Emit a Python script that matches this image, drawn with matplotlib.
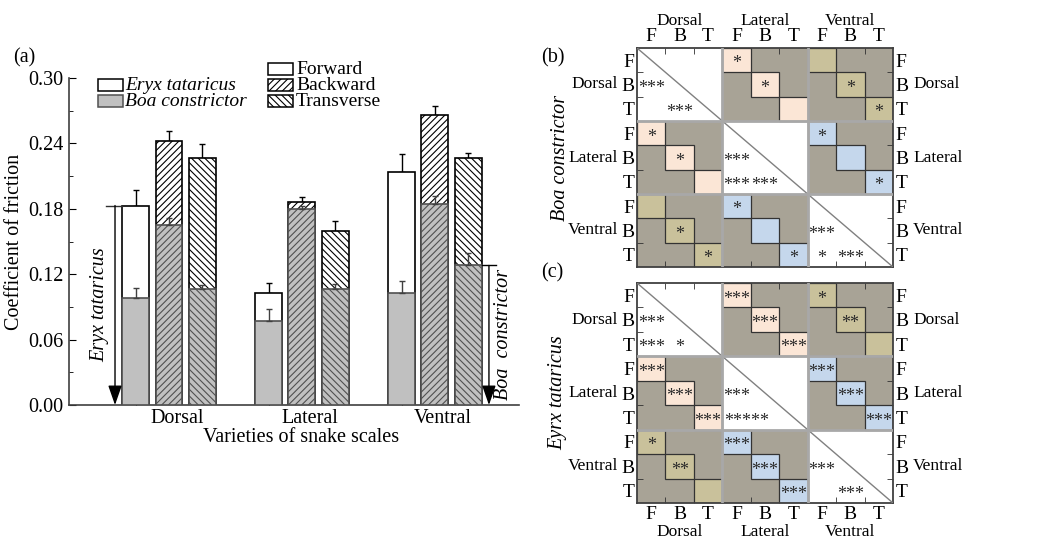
import matplotlib
matplotlib.use("Agg")
import matplotlib.pyplot as plt
import numpy as np
from matplotlib.patches import Rectangle
from matplotlib.transforms import offset_copy

plt.rcParams['font.family'] = ['Liberation Serif', 'DejaVu Serif']
plt.rcParams['hatch.linewidth'] = 0.8

# ── data ──────────────────────────────────────────────────────────────
regions = ["Dorsal", "Lateral", "Ventral"]
directions = ["Forward", "Backward", "Transverse"]
hatches = ["", "/////", "\\\\\\\\\\"]

# rows: Dorsal, Lateral, Ventral ; cols: Forward, Backward, Transverse
eryx_mean = [[0.183, 0.242, 0.227], [0.103, 0.186, 0.160], [0.214, 0.266, 0.227]]
eryx_err = [[0.014, 0.009, 0.012], [0.009, 0.005, 0.009], [0.016, 0.008, 0.004]]
boa_mean = [[0.098, 0.165, 0.106], [0.077, 0.180, 0.106], [0.103, 0.184, 0.128]]
boa_err = [[0.009, 0.007, 0.004], [0.011, 0.003, 0.005], [0.011, 0.008, 0.011]]

yticks = [0.00, 0.06, 0.12, 0.18, 0.24, 0.30]

cell_labels = ["F", "B", "T"]
# significance marks, rows/cols ordered D-F, D-B, D-T, L-F, L-B, L-T, V-F, V-B, V-T
sig_boa = [
    ["", "", "", "*", "", "", "", "", ""],
    ["***", "", "", "", "*", "", "", "*", ""],
    ["", "***", "", "", "", "", "", "", "*"],
    ["*", "", "", "", "", "", "*", "", ""],
    ["", "*", "", "***", "", "", "", "", ""],
    ["", "", "", "***", "***", "", "", "", "*"],
    ["", "", "", "*", "", "", "", "", ""],
    ["", "*", "", "", "", "", "***", "", ""],
    ["", "", "*", "", "", "*", "*", "***", ""],
]
sig_eryx = [
    ["", "", "", "***", "", "", "*", "", ""],
    ["***", "", "", "", "***", "", "", "**", ""],
    ["***", "*", "", "", "", "***", "", "", ""],
    ["***", "", "", "", "", "", "***", "", ""],
    ["", "***", "", "***", "", "", "", "***", ""],
    ["", "", "***", "*****", "", "", "", "", "***"],
    ["*", "", "", "***", "", "", "", "", ""],
    ["", "**", "", "", "***", "", "***", "", ""],
    ["", "", "", "", "", "***", "", "***", ""],
]
# colour of matching cells for each pair of regions
pair_colors = {(0, 1): "#fbe6d6", (0, 2): "#c9c19b", (1, 2): "#c5d7ec"}
gray_cell = "#a8a396"

W, H = 1057, 541
fig = plt.figure(figsize=(W / 100, H / 100), dpi=100)


def fx(x):
    return x / W


def fy(y):
    return 1 - y / H


# ── (a) bar chart ─────────────────────────────────────────────────────
ax = fig.add_axes([fx(69), fy(405), 450 / W, 327 / H])
bar_w, step = 0.203, 0.251
groups = np.arange(1, 4)
for d in range(3):
    x = groups + (d - 1) * step
    e_vals = [eryx_mean[g][d] for g in range(3)]
    e_errs = [eryx_err[g][d] for g in range(3)]
    b_vals = [boa_mean[g][d] for g in range(3)]
    b_errs = [boa_err[g][d] for g in range(3)]
    ax.bar(x, e_vals, width=bar_w, color="white", edgecolor="black",
           hatch=hatches[d], linewidth=1.2, zorder=2)
    ax.errorbar(x, e_vals, yerr=[np.zeros(3), e_errs], fmt="none",
                ecolor="black", elinewidth=1, capsize=2.5, zorder=1)
    ax.bar(x, b_vals, width=bar_w, color="#c0c0c0", edgecolor="#505050",
           hatch=hatches[d], linewidth=1.2, zorder=3)
    ax.errorbar(x, b_vals, yerr=[np.zeros(3), b_errs], fmt="none",
                ecolor="#404040", elinewidth=1, capsize=2.5, zorder=4)

ax.set_xlim(0.248, 3.632)
ax.set_ylim(0, 0.30)
ax.set_yticks(yticks, [f"{v:.2f}" for v in yticks])
ax.set_yticks(np.arange(0.03, 0.30, 0.06), minor=True)
ax.set_xticks(groups - step, [])
ax.set_xticks(groups + 0.06, regions, minor=True)
ax.tick_params(axis="y", which="major", direction="in", length=5, labelsize=14.5, pad=4)
ax.tick_params(axis="y", which="minor", direction="in", length=3)
ax.tick_params(axis="x", which="major", direction="in", length=4)
ax.tick_params(axis="x", which="minor", length=0, labelsize=14.5, pad=3)
for s in ["top", "right"]:
    ax.spines[s].set_visible(False)
for s in ["left", "bottom"]:
    ax.spines[s].set_color("#404040")
    ax.spines[s].set_linewidth(1.2)
ax.set_ylabel("Coefficient of friction", fontsize=14.5, labelpad=3)
ax.set_xlabel("Varieties of snake scales", fontsize=14.5)
ax.xaxis.set_label_coords(0.516, -0.07)

# species arrows
ex = 0.594
ax.plot([0.526, 1 - step - bar_w / 2], [eryx_mean[0][0]] * 2, color="#303030", lw=1, zorder=5)
ax.annotate("", xy=(ex, 0), xytext=(ex, eryx_mean[0][0]),
            arrowprops=dict(arrowstyle="-|>,head_length=1.0,head_width=0.35",
                            color="black", lw=1, shrinkA=0, shrinkB=0, mutation_scale=12),
            zorder=5)
ax.text(0.481, 0.092, "Eryx tataricus", rotation=90, style="italic",
        fontsize=14.5, ha="center", va="center")
bx = 3.406
ax.plot([3 + step + bar_w / 2, 3.459], [boa_mean[2][2]] * 2, color="black", lw=1, zorder=5)
ax.annotate("", xy=(bx, 0), xytext=(bx, boa_mean[2][2]),
            arrowprops=dict(arrowstyle="-|>,head_length=1.0,head_width=0.35",
                            color="black", lw=1, shrinkA=0, shrinkB=0, mutation_scale=12),
            zorder=5)
ax.text(3.519, 0.065, "Boa  constrictor", rotation=90, style="italic",
        fontsize=14.5, ha="center", va="center")

# legends drawn by hand (tight rows as in the original)
def leg_patch(x0, y0, face, edge, hatch=""):
    fig.add_artist(Rectangle((fx(x0), fy(y0 + 12)), 25 / W, 12 / H,
                             transform=fig.transFigure, facecolor=face,
                             edgecolor=edge, hatch=hatch, lw=1.1))


leg_patch(98, 79, "white", "black")
leg_patch(98, 95, "#c0c0c0", "#505050")
fig.text(fx(125), fy(85), "Eryx tataricus", style="italic", fontsize=14, va="center")
fig.text(fx(125), fy(101), "Boa constrictor", style="italic", fontsize=14, va="center")
for i, name in enumerate(directions):
    leg_patch(268, 63 + 16 * i, "white", "black", hatches[i])
    fig.text(fx(296), fy(69 + 16 * i), name, fontsize=14, va="center")

fig.text(fx(13), fy(58), "(a)", fontsize=14.5, va="center")


# ── (b), (c) significance matrices ───────────────────────────────────
def draw_matrix(ax, sig, top):
    ax.set_xlim(0, 9)
    ax.set_ylim(9, 0)
    colored = []
    for r in range(9):
        for c in range(9):
            br, bc = r // 3, c // 3
            if br == bc:
                continue
            if r % 3 == c % 3:
                colored.append((r, c, pair_colors[(min(br, bc), max(br, bc))]))
            else:
                ax.add_patch(Rectangle((c, r), 1, 1, facecolor=gray_cell,
                                       edgecolor="none", zorder=1))
    for r, c, col in colored:
        ax.add_patch(Rectangle((c, r), 1, 1, facecolor=col, edgecolor="#333333",
                               lw=0.9, zorder=2))
    for b in range(3):
        ax.plot([3 * b, 3 * b + 3], [3 * b, 3 * b + 3], color="#808080", lw=1, zorder=3)
    for p in (3, 6):
        ax.axhline(p, color="#a8a8a8", lw=2, zorder=4)
        ax.axvline(p, color="#a8a8a8", lw=2, zorder=4)
    star_tr = offset_copy(ax.transData, fig=fig, y=-6, units="points")
    for r in range(9):
        for c in range(9):
            s = sig[r][c]
            if not s:
                continue
            if len(s) > 3:
                ax.text(c + 0.05, r + 0.5, s, ha="left", va="baseline",
                        fontsize=13, transform=star_tr, zorder=5, color="#2a2a2a")
            else:
                ax.text(c + 0.5, r + 0.5, s, ha="center", va="baseline",
                        fontsize=13, transform=star_tr, zorder=5, color="#2a2a2a")

    centers = np.arange(9) + 0.5
    ax.set_xticks(centers, cell_labels * 3)
    ax.set_yticks(centers, cell_labels * 3)
    ax.set_xticks([1, 2, 4, 5, 7, 8], minor=True)
    ax.set_yticks([1, 2, 4, 5, 7, 8], minor=True)
    ax.tick_params(which="major", length=0, labelsize=14, pad=2,
                   labeltop=top, labelbottom=not top, labelleft=True, labelright=True)
    ax.tick_params(which="minor", direction="in", length=4, top=True, bottom=True,
                   left=True, right=True, color="#303030")
    for s in ax.spines.values():
        s.set_color("#404040")
        s.set_linewidth(1.3)
    for i, name in enumerate(regions):
        yc = 3 * i + 1.5
        ax.text(-0.074, yc, name, ha="right", va="center", fontsize=12.5,
                transform=ax.get_yaxis_transform())
        ax.text(1.078, yc, name, ha="left", va="center", fontsize=12.5,
                transform=ax.get_yaxis_transform())
        ax.text(3 * i + 1.5, 1.125 if top else -0.132, name, ha="center", va="center",
                fontsize=12.5, transform=ax.get_xaxis_transform())


axb = fig.add_axes([fx(637), fy(267), 256 / W, 219 / H])
draw_matrix(axb, sig_boa, True)
axb.text(-0.297, 0.5, "Boa constrictor", rotation=90, style="italic", fontsize=14.5,
         ha="center", va="center", transform=axb.transAxes)
fig.text(fx(541), fy(58), "(b)", fontsize=14.5, va="center")

axc = fig.add_axes([fx(637), fy(503), 256 / W, 220 / H])
draw_matrix(axc, sig_eryx, False)
axc.text(-0.31, 0.5, "Eyrx tataricus", rotation=90, style="italic", fontsize=14.5,
         ha="center", va="center", transform=axc.transAxes)
fig.text(fx(541), fy(273), "(c)", fontsize=14.5, va="center")

fig.savefig("out.png", dpi=100)
